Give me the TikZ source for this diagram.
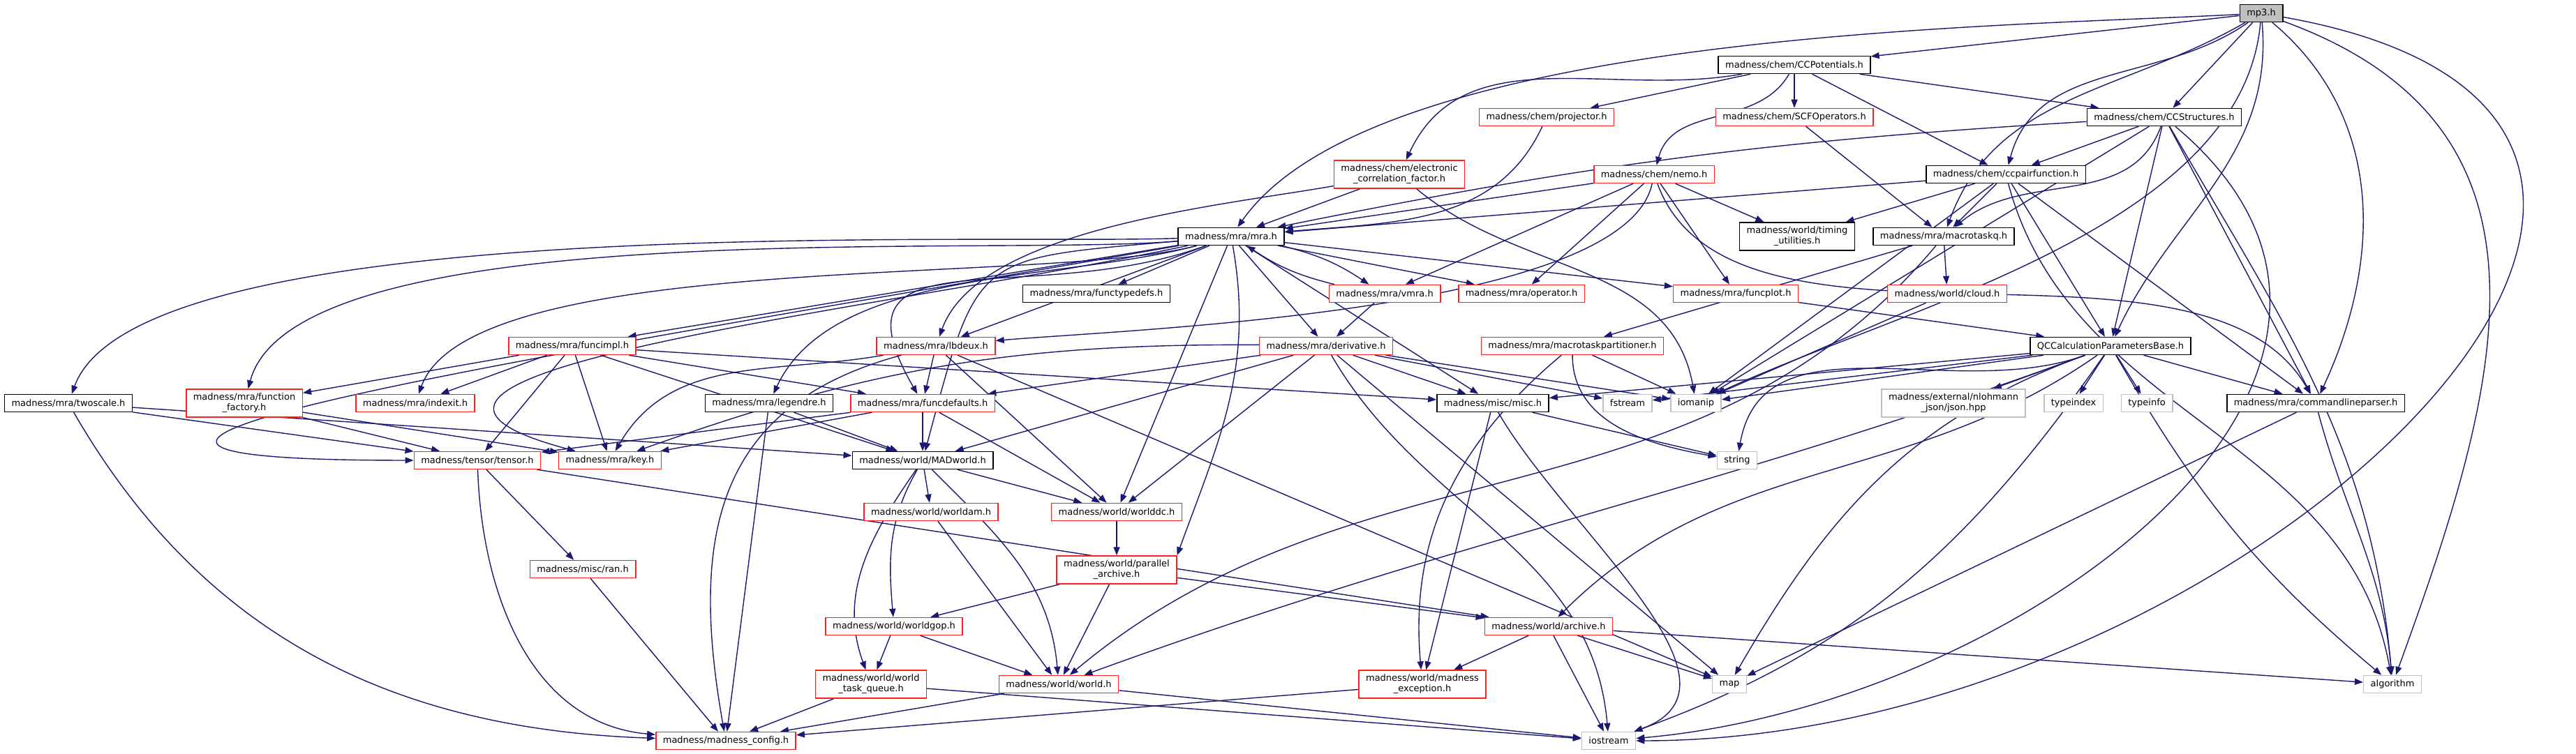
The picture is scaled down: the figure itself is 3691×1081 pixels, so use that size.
\documentclass[tikz,border=0pt]{standalone}
\usepackage{fontspec}
\setmainfont{DejaVu Sans}
\usetikzlibrary{arrows.meta,backgrounds}
\definecolor{cEdge}{HTML}{191970}
\definecolor{cRed}{HTML}{FF2020}
\definecolor{cGrey}{HTML}{BFBFBF}
\tikzset{
  box/.style   ={draw=black,fill=white,line width=.15pt,align=center,
                 inner xsep=1pt,inner ysep=.6pt,minimum height=2.5pt,
                 font=\fontsize{1.3}{1.5}\selectfont},
  dbox/.style  ={box},
  rbox/.style  ={box,draw=cRed},
  sbox/.style  ={box,draw=cGrey},
  root/.style  ={box,fill=cGrey},
  ar/.style    ={-{Triangle[length=1.2pt,width=.9pt]},line width=.14pt,cEdge},
}
\begin{document}
\begin{tikzpicture}[x=.1pt,y=-.1pt]
\useasboundingbox (0,0) rectangle (3691,1081);

% rows from the top
\node[root] (mp3)    at (3240,19)  {mp3.h};
\node[dbox] (ccpot)  at (2571,93)  {madness/chem/CCPotentials.h};
\node[rbox] (proj)   at (2216,168) {madness/chem/projector.h};
\node[rbox] (scfop)  at (2571,168) {madness/chem/SCFOperators.h};
\node[dbox] (ccstr)  at (3101,168) {madness/chem/CCStructures.h};
\node[rbox] (ecf)    at (2005,250) {madness/chem/electronic\\\_correlation\_factor.h};
\node[rbox] (nemo)   at (2370,250) {madness/chem/nemo.h};
\node[dbox] (ccpair) at (2874,250) {madness/chem/ccpairfunction.h};
\node[dbox] (mra)    at (1764,339) {madness/mra/mra.h};
\node[dbox] (timing) at (2575,339) {madness/world/timing\\\_utilities.h};
\node[dbox] (mtq)    at (2785,339) {madness/mra/macrotaskq.h};
\node[dbox] (ftdefs) at (1571,421) {madness/mra/functypedefs.h};
\node[rbox] (vmra)   at (1984,421) {madness/mra/vmra.h};
\node[rbox] (oper)   at (2180,421) {madness/mra/operator.h};
\node[rbox] (fplot)  at (2487,421) {madness/mra/funcplot.h};
\node[rbox] (cloud)  at (2790,421) {madness/world/cloud.h};
\node[rbox] (fimpl)  at (820,496)  {madness/mra/funcimpl.h};
\node[rbox] (lbdeux) at (1341,496) {madness/mra/lbdeux.h};
\node[rbox] (deriv)  at (1900,496) {madness/mra/derivative.h};
\node[rbox] (mtp)    at (2253,496) {madness/mra/macrotaskpartitioner.h};
\node[dbox] (qcc)    at (3024,496) {QCCalculationParametersBase.h};
\node[dbox] (twosc)  at (98,578)   {madness/mra/twoscale.h};
\node[rbox] (ffact)  at (350,578)  {madness/mra/function\\\_factory.h};
\node[rbox] (indexit) at (595,578) {madness/mra/indexit.h};
\node[dbox] (legendre) at (1102,578) {madness/mra/legendre.h};
\node[rbox] (fdef)   at (1322,578) {madness/mra/funcdefaults.h};
\node[dbox] (misc)   at (2139,578) {madness/misc/misc.h};
\node[sbox] (fstream) at (2332,578) {fstream};
\node[sbox] (iomanip) at (2430,578) {iomanip};
\node[sbox] (json)   at (2799,578) {madness/external/nlohmann\\\_json/json.hpp};
\node[sbox] (tindex) at (2971,578) {typeindex};
\node[sbox] (tinfo)  at (3076,578) {typeinfo};
\node[dbox] (clp)    at (3318,578) {madness/mra/commandlineparser.h};
\node[rbox] (tensor) at (684,660)  {madness/tensor/tensor.h};
\node[rbox] (key)    at (874,660)  {madness/mra/key.h};
\node[dbox] (madw)   at (1322,660) {madness/world/MADworld.h};
\node[sbox] (string) at (2489,660) {string};
\node[rbox] (wam)    at (1334,734) {madness/world/worldam.h};
\node[rbox] (wdc)    at (1600,734) {madness/world/worlddc.h};
\node[rbox] (ran)    at (835,816)  {madness/misc/ran.h};
\node[rbox] (parch)  at (1600,817) {madness/world/parallel\\\_archive.h};
\node[rbox] (wgop)   at (1281,898) {madness/world/worldgop.h};
\node[rbox] (archive) at (2219,898) {madness/world/archive.h};
\node[rbox] (wtq)    at (1248,981) {madness/world/world\\\_task\_queue.h};
\node[rbox] (world)  at (1517,981) {madness/world/world.h};
\node[rbox] (mexc)   at (2038,981) {madness/world/madness\\\_exception.h};
\node[sbox] (map)    at (2478,981) {map};
\node[sbox] (algo)   at (3428,981) {algorithm};
\node[rbox] (config) at (1040,1062) {madness/madness\_config.h};
\node[sbox] (iostream) at (2305,1062) {iostream};

\begin{pgfonlayer}{background}
% includes of mp3.h
\draw[ar] (mp3) edge (ccpot)
  edge[out=183,in=55,looseness=.6] (mra)
  edge (ccstr)
  edge[out=215,in=75] (ccpair)
  edge[out=210,in=70] (mtq)
  edge[out=-95,in=25,looseness=.8] (iomanip)
  edge[out=-85,in=65] (qcc)
  edge[out=-40,in=65] (clp)
  edge[out=-20,in=70,looseness=1.2] (algo)
  edge[out=-10,in=0,looseness=1.6] (iostream);

\draw[ar] (ccpot) edge[out=190,in=65] (ecf)
  edge (proj) edge[out=240,in=75] (nemo) edge (scfop)
  edge (ccpair) edge (ccstr);
\draw[ar] (proj) edge[out=245,in=5] (mra);
\draw[ar] (scfop) edge (mtq);
\draw[ar] (ecf) edge (mra) edge[out=190,in=70,looseness=.7] (lbdeux)
  edge[out=-40,in=100] (iomanip);
\draw[ar] (nemo) edge (mra) edge (vmra) edge (oper)
  edge[out=258,in=5,looseness=.5] (lbdeux) edge (fplot)
  edge[out=-70,in=120,looseness=.8] (clp) edge (timing);
\draw[ar] (ccstr) edge[bend right=4] (mra) edge (ccpair)
  edge[out=250,in=40] (mtq) edge (qcc) edge (clp) edge (iomanip)
  edge[out=-60,in=95] (algo) edge[out=-40,in=5,looseness=1.2] (iostream);
\draw[ar] (ccpair) edge (mra) edge (timing) edge (mtq) edge (iomanip)
  edge (qcc) edge (clp) edge[out=-75,in=100] (algo);
\draw[ar] (mtq) edge (cloud) edge (mtp) edge[out=230,in=40] (world);
\draw[ar] (cloud) edge (iomanip);
\draw[ar] (fplot) edge (qcc);
\draw[ar] (mtp) edge[out=270,in=170] (string)
  edge[out=220,in=95] (mexc) edge (iomanip);
\draw[ar] (vmra) edge[bend left=10] (mra) edge (deriv);

% mra.h fans out
\draw[ar] (mra) edge (ftdefs) edge[bend left=10] (vmra) edge (oper)
  edge (fplot) edge (fimpl)
  edge[out=185,in=75,looseness=.5] (ffact)
  edge[out=182,in=70,looseness=.45] (twosc)
  edge[out=195,in=70,looseness=.5] (indexit)
  edge[out=190,in=180,looseness=1.8] (tensor)
  edge[out=192,in=165,looseness=1.2] (key)
  edge[out=195,in=65,looseness=.8] (legendre)
  edge[out=200,in=120,looseness=1.5] (fdef) edge (lbdeux)
  edge[out=185,in=75,looseness=1.6] (madw) edge (deriv) edge (misc) edge (wdc)
  edge[out=-80,in=70] (parch.north east);

\draw[ar] (fimpl) edge (ffact) edge (indexit) edge (tensor) edge (key)
  edge (fdef) edge (madw) edge (misc);
\draw[ar] (lbdeux) edge (fdef) edge[out=190,in=60] (key)
  edge[out=195,in=100,looseness=1.2] (config) edge (wdc) edge (map);
\draw[ar] (fdef) edge (madw) edge (wdc) edge (tensor) edge (key);
\draw[ar] (deriv) edge (fdef) edge (madw) edge[bend right=10] (key)
  edge (wdc) edge (misc) edge (fstream) edge (iomanip) edge (map)
  edge[out=-60,in=95] (iostream);
\draw[ar] (misc) edge (string) edge (mexc) edge[out=-60,in=20] (iostream);
\draw[ar] (qcc) edge (misc) edge (fstream) edge (iomanip)
  edge[out=200,in=80] (string) edge (json) edge (tindex) edge (tinfo)
  edge (clp) edge[out=200,in=20] (world) edge[out=215,in=45] (archive)
  edge[out=200,in=60] (map) edge[out=-60,in=140] (algo)
  edge[out=235,in=20] (iostream);
\draw[ar] (clp) edge (map) edge[out=-75,in=95] (algo);

% lower half
\draw[ar] (twosc) edge (tensor) edge (madw)
  edge[out=-60,in=178] (config);
\draw[ar] (ffact) edge (tensor) edge (key);
\draw[ar] (legendre) edge (madw) edge (config);
\draw[ar] (tensor) edge (ran) edge[out=-88,in=175] (config) edge (archive);
\draw[ar] (ran) edge (config);
\draw[ar] (madw) edge (wam) edge (wdc) edge[out=240,in=95] (wgop)
  edge[out=235,in=110] (wtq) edge[out=-45,in=95] (world);
\draw[ar] (wam) edge (world);
\draw[ar] (wdc) edge (parch);
\draw[ar] (parch) edge (wgop) edge (world) edge (archive);
\draw[ar] (wgop) edge (wtq) edge (world);
\draw[ar] (wtq) edge (config) edge (iostream);
\draw[ar] (world) edge (config) edge (iostream);
\draw[ar] (archive) edge (mexc) edge (iostream) edge (map) edge (algo);
\draw[ar] (mexc) edge (config);
\end{pgfonlayer}
\end{tikzpicture}
\end{document}
